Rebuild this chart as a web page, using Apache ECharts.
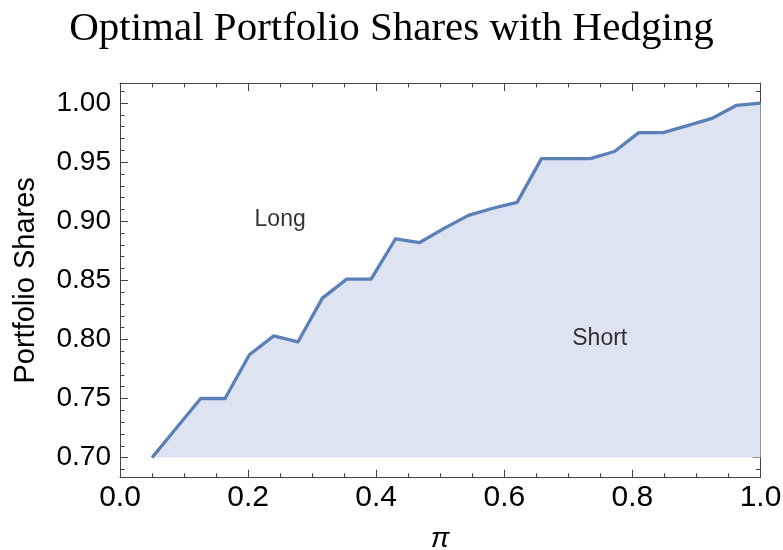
<!DOCTYPE html>
<html><head><meta charset="utf-8">
<script src="https://cdn.jsdelivr.net/npm/echarts@6/dist/echarts.min.js"></script>
<style>html,body{margin:0;padding:0;background:#fff}#c{width:783px;height:550px}</style>
</head><body><div id="c"></div>
<script>
const titleText = 'Optimal Portfolio Shares with Hedging';
const xName = 'π';
const yName = 'Portfolio Shares';
const piValues = [0.050,0.088,0.126,0.164,0.202,0.240,0.278,0.316,0.354,0.392,0.430,0.468,0.506,0.544,0.582,0.620,0.658,0.696,0.734,0.772,0.810,0.848,0.886,0.924,0.962,1.000];
const shares   = [0.700,0.725,0.750,0.750,0.787,0.803,0.798,0.835,0.851,0.851,0.885,0.882,0.894,0.905,0.911,0.916,0.953,0.953,0.953,0.959,0.975,0.975,0.981,0.987,0.998,1.000];
const yMajorTicks = [0.70,0.75,0.80,0.85,0.90,0.95,1.00];
const yMinorTicks = [0.69,0.70,0.71,0.72,0.73,0.74,0.75,0.76,0.77,0.78,0.79,0.80,0.81,0.82,0.83,0.84,0.85,0.86,0.87,0.88,0.89,0.90,0.91,0.92,0.93,0.94,0.95,0.96,0.97,0.98,0.99,1.00,1.01];
const annotationLabels = ['Long','Short'];
const annotationX = [0.25,0.749];
const annotationY = [0.901,0.801];
const baseline = 0.70;

const frameColor = '#444';
const chart = echarts.init(document.getElementById('c'), null, {renderer:'canvas'});
const yCommon = {type:'value', min:0.683, max:1.017, splitLine:{show:false}};
chart.setOption({
  animation:false,
  backgroundColor:'#fff',
  title:{text:titleText, left:'center', top:4,
    textStyle:{fontFamily:'Liberation Serif', fontSize:41, fontWeight:'normal', color:'#000'}},
  grid:{left:120, right:22.5, top:83, bottom:72.3, containLabel:false, outerBoundsMode:'none'},
  xAxis:[
    {type:'value', min:0, max:1, interval:0.2, position:'bottom',
     name:xName, nameLocation:'middle', nameGap:48,
     nameTextStyle:{fontFamily:'Liberation Sans', fontSize:28, fontStyle:'italic', color:'#000'},
     axisLine:{lineStyle:{color:frameColor, width:1}},
     axisTick:{inside:true, length:8, lineStyle:{color:frameColor}},
     minorTick:{show:true, splitNumber:4, length:4.5, lineStyle:{color:frameColor}},
     axisLabel:{fontFamily:'Liberation Sans', fontSize:30, color:'#000', margin:5, formatter:v=>v.toFixed(1)},
     splitLine:{show:false}},
    {type:'value', min:0, max:1, interval:0.2, position:'top',
     axisLine:{show:true, lineStyle:{color:frameColor, width:1}},
     axisTick:{inside:true, length:8, lineStyle:{color:frameColor}},
     minorTick:{show:true, splitNumber:4, length:4.5, lineStyle:{color:frameColor}},
     axisLabel:{show:false}, splitLine:{show:false}}
  ],
  yAxis:[
    Object.assign({}, yCommon, {position:'left',
     name:yName, nameLocation:'middle', nameGap:80,
     nameTextStyle:{fontFamily:'Liberation Sans', fontSize:29, color:'#000'},
     axisLine:{show:true, lineStyle:{color:frameColor, width:1}},
     axisTick:{inside:true, length:8, customValues:yMajorTicks, lineStyle:{color:frameColor}},
     axisLabel:{fontFamily:'Liberation Sans', fontSize:28, color:'#000', margin:9, customValues:yMajorTicks, formatter:v=>v.toFixed(2)}}),
    Object.assign({}, yCommon, {position:'left', offset:0,
     axisLine:{show:false},
     axisTick:{inside:true, length:4.5, customValues:yMinorTicks, lineStyle:{color:frameColor}},
     axisLabel:{show:false}}),
    Object.assign({}, yCommon, {position:'right', offset:0,
     axisLine:{show:true, lineStyle:{color:frameColor, width:1}},
     axisTick:{inside:true, length:8, customValues:yMajorTicks, lineStyle:{color:frameColor}},
     axisLabel:{show:false}}),
    Object.assign({}, yCommon, {position:'right', offset:0,
     axisLine:{show:false},
     axisTick:{inside:true, length:4.5, customValues:yMinorTicks, lineStyle:{color:frameColor}},
     axisLabel:{show:false}})
  ],
  series:[
    {type:'line', xAxisIndex:0, yAxisIndex:0, data:piValues.map((p,i)=>[p,shares[i]]),
     symbol:'none', smooth:false, clip:true,
     lineStyle:{color:'#5b80b8', width:3.3, join:'round'},
     areaStyle:{color:'#dde3f0', opacity:1, origin:baseline}, z:3},
    {type:'scatter', xAxisIndex:0, yAxisIndex:0, symbolSize:0, silent:true,
     data:annotationLabels.map((t,i)=>({name:t, value:[annotationX[i],annotationY[i]]})),
     label:{show:true, position:'inside', formatter:'{b}', fontFamily:'Liberation Sans', fontSize:23, color:'#000'}, z:5}
  ]
});
</script></body></html>
